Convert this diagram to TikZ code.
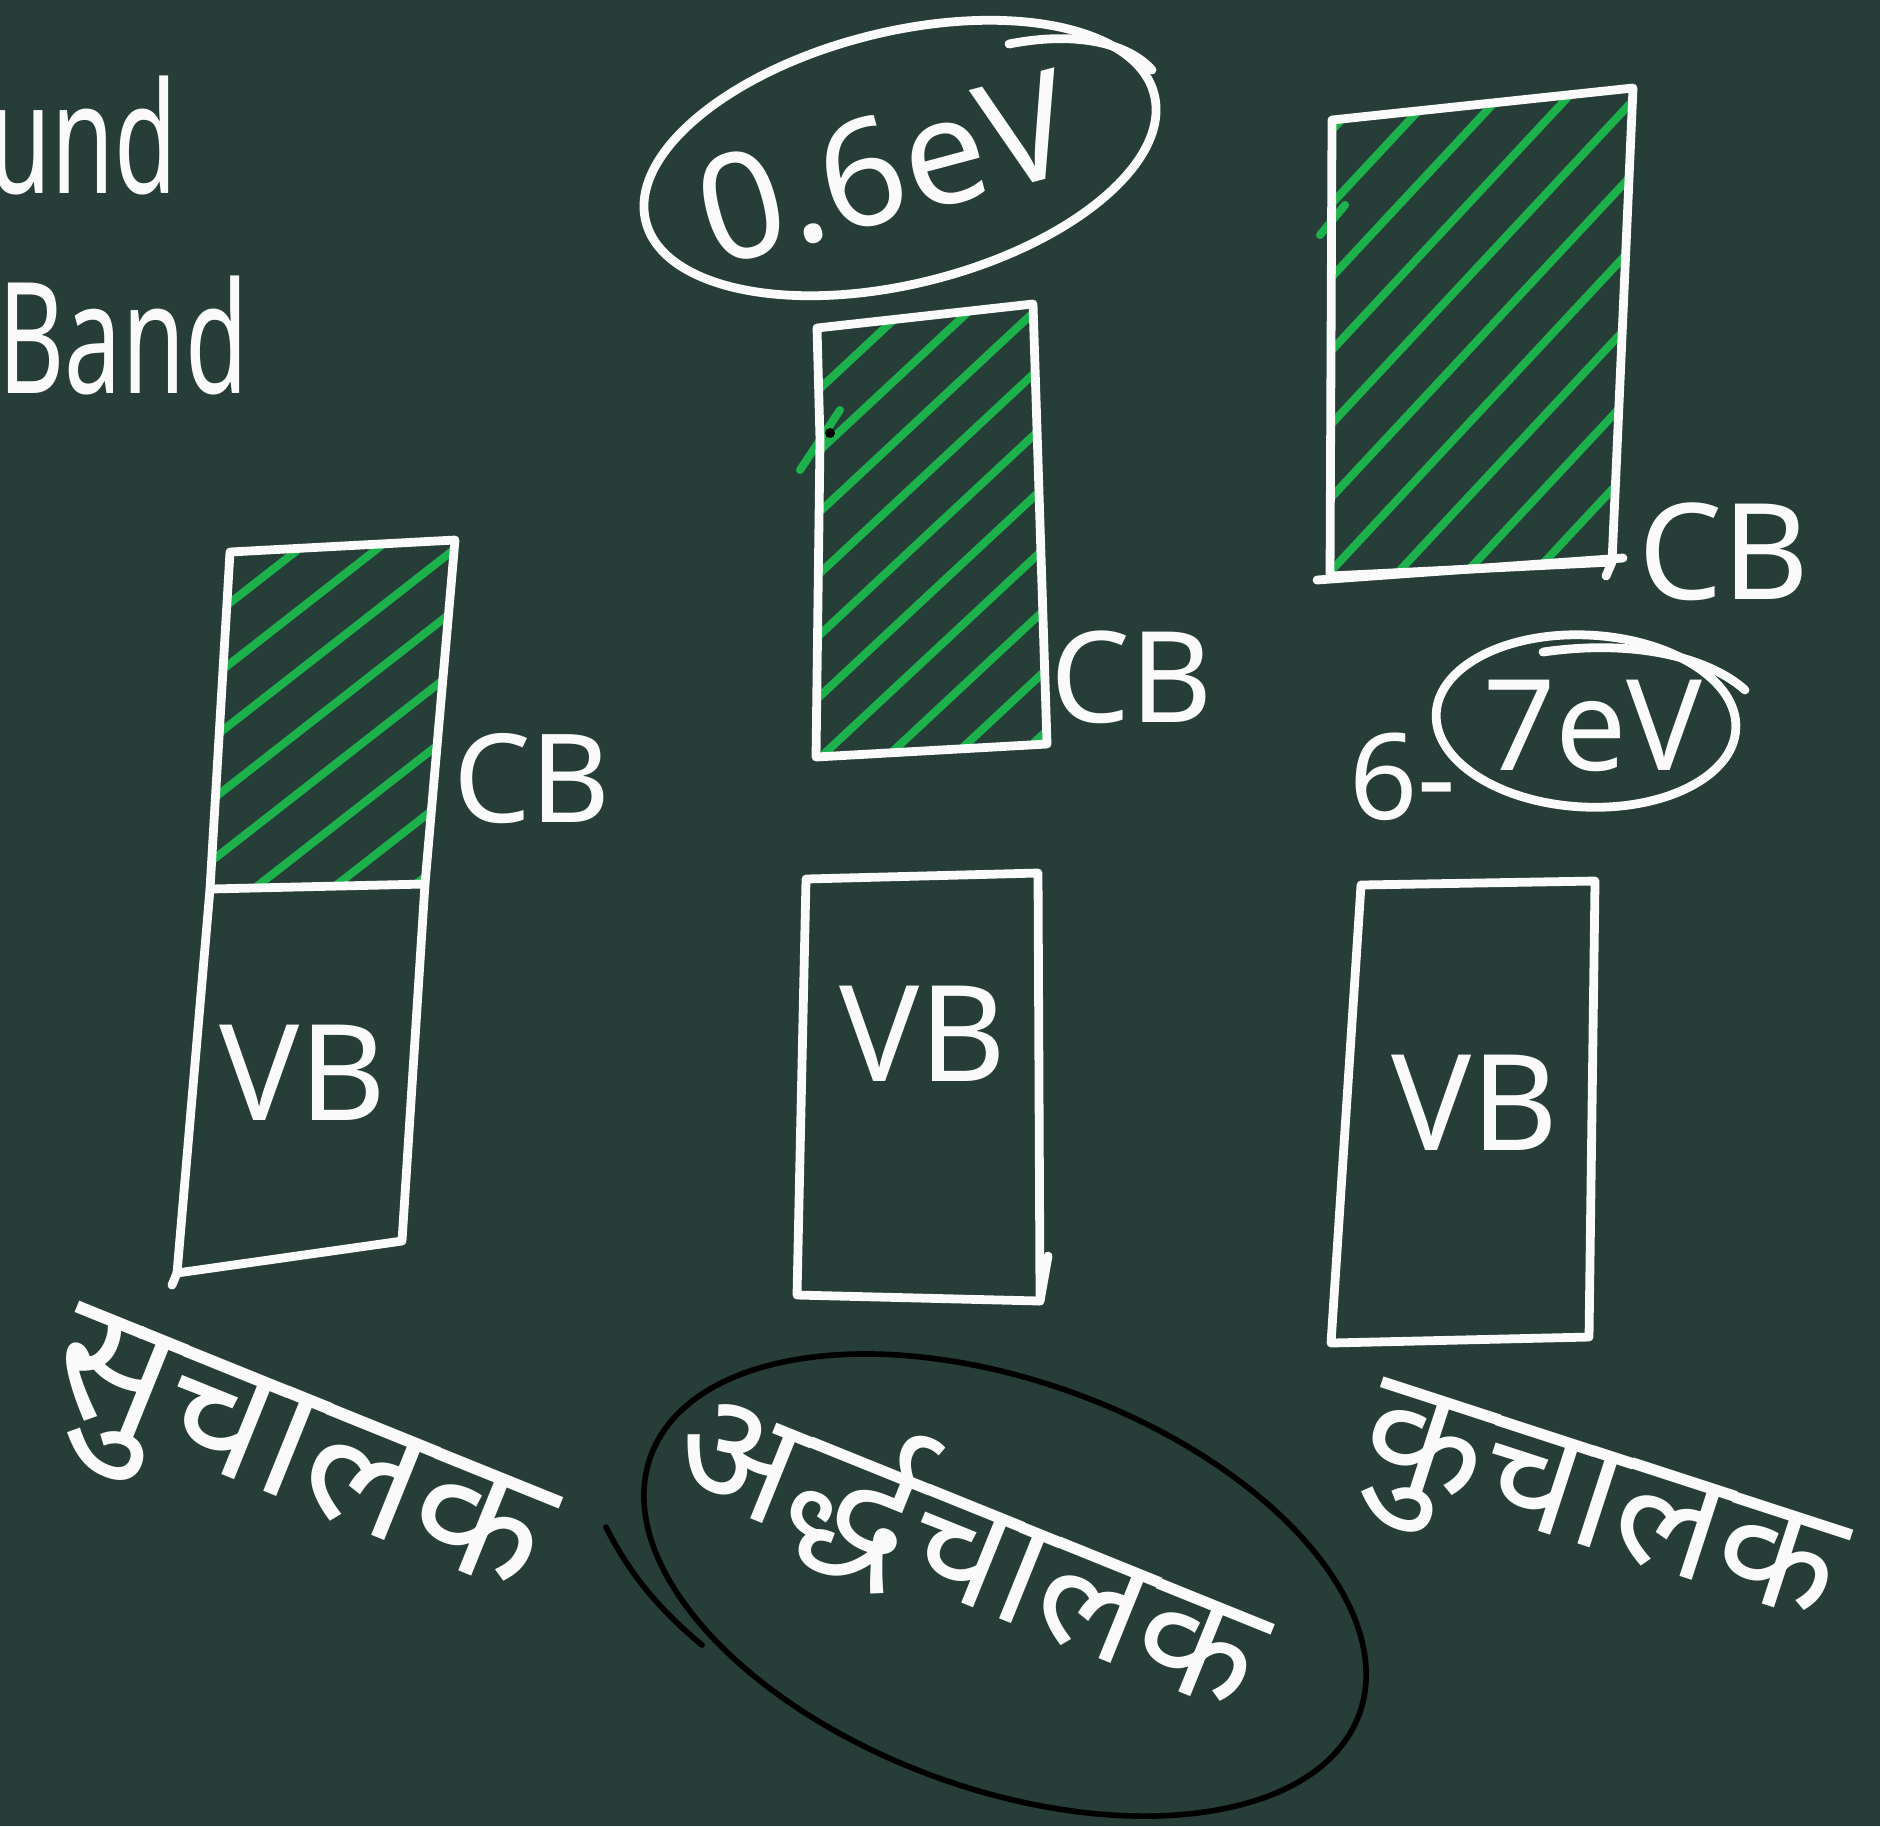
\documentclass[tikz,border=0pt]{standalone}
\usepackage{fontspec}
\setmainfont{Noto Sans}
\newfontfamily\hindi[Script=Devanagari]{Noto Sans}
\usetikzlibrary{calc}
\definecolor{board}{RGB}{38,61,56}
\definecolor{chalk}{RGB}{250,250,250}
\definecolor{hatchgreen}{RGB}{29,177,75}
\begin{document}
\begin{tikzpicture}[x=0.01cm,y=-0.01cm,
  chalkline/.style={draw=chalk, line width=2.5pt, line join=round, line cap=round},
  blackline/.style={draw=black, line width=1.6pt, line cap=round},
  hatchline/.style={draw=hatchgreen, line width=2.3pt, line cap=round},
  lbl/.style={text=chalk, inner sep=0pt, font=\fontsize{38}{40}\selectfont},
  bigtxt/.style={text=chalk, inner sep=0pt, font=\fontsize{44}{48}\selectfont, xscale=0.66},
  hinditxt/.style={text=chalk, inner sep=0pt}]
\fill[board] (0,0) rectangle (1880,1826);
\useasboundingbox (0,0) rectangle (1880,1826);
\clip (0,0) rectangle (1880,1826);

% ---------- left heading text ----------
\node[bigtxt, anchor=base east] (t1) at (178,193) {und};
\node[bigtxt, anchor=base west] (t2) at (-2,393) {Band};

% ---------- conductor ----------
\coordinate (a1) at (230,552);
\coordinate (a2) at (455,540);
\coordinate (a3) at (425,884);
\coordinate (a4) at (210,889);
\coordinate (a5) at (402,1241);
\coordinate (a6) at (177,1273);
\begin{scope}
  \clip (a1) -- (a2) -- (a3) -- (a4) -- cycle;
  \foreach \k in {-200,-152,...,205}
    \draw[hatchline, shift={(332,716)}, rotate=38] (-400,\k) -- (400,\k);
\end{scope}
\draw[chalkline] (a1) -- (a2) -- (a3) -- (a4) -- cycle;
\draw[chalkline] (a4) -- (a6) -- (a5) -- (a3);
\draw[chalkline] (a6) -- ++(-5,12);
\node[lbl, font=\fontsize{35}{38}\selectfont] (cb1) at (532,779) {CB};
\node[lbl] (vb1) at (303,1073) {VB};

% ---------- semiconductor ----------
\coordinate (b1) at (817,328);
\coordinate (b2) at (1033,304);
\coordinate (b3) at (1047,744);
\coordinate (b4) at (816,757);
\coordinate (b5) at (806,879);
\coordinate (b6) at (1038,873);
\coordinate (b7) at (1040,1301);
\coordinate (b8) at (797,1295);
\begin{scope}
  \clip (b1) -- (b2) -- (b3) -- (b4) -- cycle;
  \foreach \k in {-225,-180,...,230}
    \draw[hatchline, shift={(930,532)}, rotate=43] (-500,\k) -- (500,\k);
\end{scope}
\draw[hatchline] (800,470) -- (840,410);
\draw[chalkline] (b1) -- (b2) -- (b3) -- (b4) -- (820,440) -- cycle;
\draw[chalkline] (b5) -- (b6) -- (b7) -- (b8) -- cycle;
\draw[chalkline] (b7) -- ++(8,-45);
\fill[black] (830,433) circle [radius=5];
\node[lbl, font=\fontsize{36}{38}\selectfont] (cb2) at (1132,677) {CB};
\node[lbl] (vb2) at (923,1034) {VB};
\draw[chalkline] (900,158) ellipse [x radius=262, y radius=126, rotate=14];
\draw[chalkline] (1009,44) .. controls (1080,30) and (1130,45) .. (1152,70);
\node[lbl, font=\fontsize{42}{44}\selectfont, rotate=15] (g1) at (885,168) {0.6eV};

% ---------- insulator ----------
\coordinate (c1) at (1332,120);
\coordinate (c2) at (1633,88);
\coordinate (c3) at (1612,562);
\coordinate (c4) at (1330,576);
\coordinate (c5) at (1361,885);
\coordinate (c6) at (1595,881);
\coordinate (c7) at (1589,1337);
\coordinate (c8) at (1331,1343);
\begin{scope}
  \clip (c1) -- (c2) -- (c3) -- (c4) -- cycle;
  \foreach \k in {-250,-200,...,255}
    \draw[hatchline, shift={(1478,340)}, rotate=47] (-500,\k) -- (500,\k);
\end{scope}
\draw[hatchline] (1320,235) -- (1345,205);
\draw[chalkline] (c1) -- (c2) -- (c3) -- (c4) -- cycle;
\draw[chalkline] (1317,580) -- (1623,558);
\draw[chalkline] (c3) -- ++(-6,14);
\draw[chalkline] (c5) -- (c6) -- (c7) -- (c8) -- cycle;
\node[lbl] (cb3) at (1724,552) {CB};
\node[lbl] (vb3) at (1475,1103) {VB};
\draw[chalkline] (1586,721) ellipse [x radius=150, y radius=86, rotate=-3];
\draw[chalkline] (1543,652) .. controls (1640,638) and (1712,660) .. (1745,690);
\node[lbl, font=\fontsize{36}{38}\selectfont] (g2) at (1593,726) {7eV};
\node[lbl, font=\fontsize{34}{36}\selectfont] (g3) at (1403,777) {6-};

% ---------- bottom labels ----------
\node[hinditxt, font=\hindi\fontsize{49}{52}\selectfont, rotate=-22] (h1) at (292,1470) {सुचालक};
\node[hinditxt, font=\hindi\fontsize{45}{48}\selectfont, rotate=-22] (h2) at (972,1545) {अर्द्धचालक};
\node[hinditxt, font=\hindi\fontsize{45}{48}\selectfont, rotate=-18] (h3) at (1596,1520) {कुचालक};
\draw[blackline] (1005,1585) ellipse [x radius=377, y radius=204, rotate=-20];
\draw[blackline] (606,1527) .. controls (630,1575) and (660,1610) .. (702,1645);
\end{tikzpicture}
\end{document}
